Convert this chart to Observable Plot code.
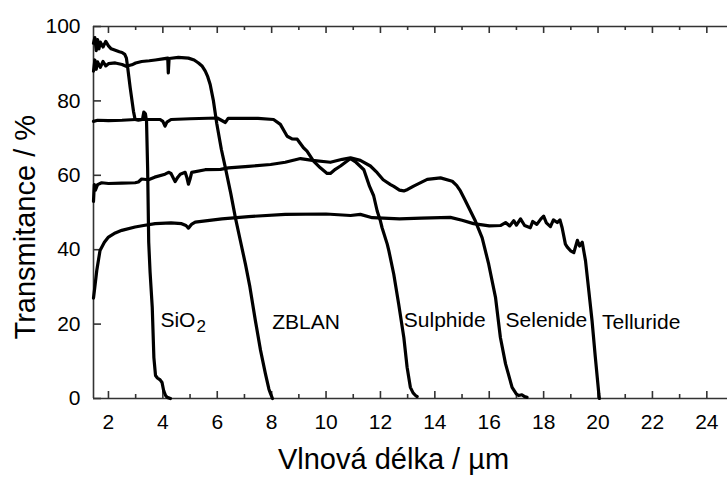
<!DOCTYPE html>
<html><head><meta charset="utf-8">
<script src="https://cdn.jsdelivr.net/npm/d3@7"></script>
<script src="https://cdn.jsdelivr.net/npm/@observablehq/plot@0.6"></script>
<style>body{margin:0;background:#fff}</style>
</head><body><div id="chart"></div>
<script>
// ---- data (wavelength µm, transmittance %) ----
const sio2 = [[1.45,95.5],[1.5,97],[1.55,93.5],[1.6,96.5],[1.65,94],[1.7,95.8],[1.8,94.5],[1.9,96],[2.0,94.8],[2.1,94],[2.25,93.6],[2.4,93.2],[2.5,93],[2.6,92.5],[2.66,91.5],[2.71,88.8],[2.8,83.5],[2.92,77.2],[2.98,75],[3.1,74.8],[3.25,75],[3.3,77],[3.36,76.5],[3.4,74.5],[3.44,62],[3.48,42],[3.53,34],[3.61,24.5],[3.67,11],[3.73,6.2],[3.8,5.5],[3.9,5],[3.97,4.3],[4.03,2.1],[4.1,0.8],[4.16,0.3],[4.28,0]];
const zblan = [[1.45,88],[1.5,91],[1.55,88.5],[1.6,90.5],[1.7,89],[1.8,90.6],[1.9,89.4],[2.0,90],[2.25,90.2],[2.5,89.8],[2.65,89.3],[2.86,89.7],[3.0,90.2],[3.22,90.6],[3.5,90.8],[3.72,91],[4.0,91.3],[4.18,91.5],[4.2,87.5],[4.23,91.4],[4.57,91.7],[4.94,91.5],[5.15,91],[5.31,90.2],[5.45,89.3],[5.56,88],[5.65,86.5],[5.74,84.4],[5.86,80],[5.98,74],[6.15,67],[6.3,62],[6.5,55],[6.67,48.5],[6.85,42.4],[7.04,36],[7.2,30],[7.4,21],[7.59,13],[7.77,6.7],[7.9,2.5],[7.96,1.3],[8.03,0]];
const sulphide = [[1.45,74.5],[1.6,74.8],[2.0,74.7],[2.5,74.8],[3.0,75],[3.5,75],[3.9,75],[4.0,74.5],[4.08,73.2],[4.15,74.3],[4.3,75],[5.0,75.2],[6.0,75.4],[6.3,74.2],[6.4,75.3],[7.0,75.3],[7.5,75.3],[8.07,75],[8.32,73.7],[8.57,70.5],[8.75,69.8],[8.94,69.7],[9.17,67.4],[9.3,66.5],[9.54,63.8],[9.79,62],[10.04,60.5],[10.16,60.5],[10.34,61.6],[10.53,62.5],[10.9,64.5],[11.1,63.5],[11.39,61.5],[11.6,57],[11.75,54.5],[11.88,50.4],[12.0,47.7],[12.06,45.9],[12.25,41.5],[12.31,39.7],[12.49,33.4],[12.67,25.4],[12.86,16.4],[12.98,8.4],[13.1,3],[13.2,1.5],[13.29,0.8],[13.35,0.5]];
const selenide = [[1.45,53],[1.48,57.5],[1.52,56],[1.6,57.5],[1.75,58],[2.0,57.8],[2.49,57.9],[2.98,58],[3.1,58.2],[3.22,59],[3.47,58.8],[3.7,59.5],[4.08,60.3],[4.21,60.8],[4.3,60.5],[4.45,58.3],[4.55,59.5],[4.64,60.3],[4.82,60.8],[4.88,59.5],[4.94,57.6],[5.0,59],[5.06,60.8],[5.56,61.5],[6.12,61.6],[6.41,62],[7.15,62.4],[7.96,62.9],[8.5,63.5],[9.06,64.5],[9.5,64],[10.16,63.5],[10.6,64.3],[10.9,64.7],[11.26,64],[11.63,62.5],[11.88,60.7],[12.1,58.8],[12.37,57.5],[12.49,57],[12.7,56],[12.86,55.8],[13.0,56.2],[13.22,57.1],[13.72,58.9],[14.21,59.3],[14.64,58.4],[14.8,57.3],[14.94,55.8],[15.1,53.5],[15.25,51.3],[15.49,47.7],[15.74,43.2],[15.98,36.1],[16.23,27.2],[16.41,16.4],[16.6,9.3],[16.84,3],[17.0,1.2],[17.08,0.8],[17.2,1],[17.3,0.5],[17.39,0.3]];
const telluride = [[1.45,27],[1.5,30],[1.57,34.4],[1.69,39.8],[1.85,42],[2.0,43.4],[2.25,44.5],[2.49,45.2],[2.98,46.1],[3.29,46.5],[3.72,47],[4.3,47.2],[4.69,47],[4.85,46.5],[4.94,45.8],[5.05,46.8],[5.19,47.4],[6.17,48.3],[7.15,48.9],[8.5,49.5],[10.0,49.6],[10.9,49.2],[11.26,49.5],[11.7,48.6],[12.7,48.3],[13.5,48.5],[14.57,48.7],[15.0,47.9],[15.42,47],[16.0,46.4],[16.41,46.5],[16.6,47.3],[16.75,46.4],[16.9,47.8],[17.0,46.6],[17.15,48.3],[17.3,46.5],[17.51,45.9],[17.6,47.6],[17.75,46.8],[17.9,48.3],[18.0,49],[18.1,47.2],[18.25,46.2],[18.36,48],[18.5,47.3],[18.6,48],[18.68,45.9],[18.8,41.5],[18.87,40.7],[18.99,39.7],[19.11,39.2],[19.24,42.5],[19.32,41],[19.42,42],[19.54,37],[19.66,29],[19.78,20.9],[19.9,11.1],[20.03,1.2],[20.05,0]];

const seriesNames = ["SiO2","ZBLAN","Sulphide","Selenide","Telluride"];
const seriesData = [sio2, zblan, sulphide, selenide, telluride];

const labelTexts = ["SiO","ZBLAN","Sulphide","Selenide","Telluride"];
const labelX = [3.91, 8.02, 12.86, 16.6, 20.15];
const labelY = [20.9, 20.4, 20.9, 20.9, 20.6];
const subscriptText = ["2"];

const xTickValues = [2,4,6,8,10,12,14,16,18,20,22,24];
const xMinorTickValues = [3,5,7,9,11,13,15,17,19,21,23];
const yTickValues = [0,20,40,60,80,100];
const xDomain = [1.45, 24.76];
const yDomain = [0, 100];
const xLabel = "Vlnová délka / µm";
const yLabel = "Transmitance / %";

// ---- layout ----
const W = 727, H = 482, mL = 93, mR = 0, mT = 26, mB = 84;
const plotH = H - mT - mB, plotW = W - mL - mR;
const frameColor = "#333";

const rows = seriesData.flatMap((s, i) => s.map(([x, y]) => ({series: seriesNames[i], x, y})));
const labels = labelTexts.map((t, i) => ({t, x: labelX[i], y: labelY[i]}));

const chart = Plot.plot({
  width: W, height: H,
  marginLeft: mL, marginRight: mR, marginTop: mT, marginBottom: mB,
  x: {domain: xDomain},
  y: {domain: yDomain},
  style: {fontFamily: "'Liberation Sans', Arial, sans-serif", background: "#fff", color: "#000"},
  marks: [
    // frame (left, top, bottom)
    Plot.ruleX([xDomain[0]], {stroke: frameColor, strokeWidth: 1.6}),
    Plot.ruleY([yDomain[0]], {stroke: frameColor, strokeWidth: 1.6}),
    Plot.ruleY([yDomain[1]], {stroke: frameColor, strokeWidth: 1.6}),
    // inward ticks
    Plot.tickX(xTickValues, {x: d => d, insetTop: plotH - 7, stroke: frameColor, strokeWidth: 1.6}),
    Plot.tickX(xMinorTickValues, {x: d => d, insetTop: plotH - 4, stroke: frameColor, strokeWidth: 1.6}),
    Plot.tickX(xTickValues, {x: d => d, insetBottom: plotH - 7, stroke: frameColor, strokeWidth: 1.6}),
    Plot.tickX(xMinorTickValues, {x: d => d, insetBottom: plotH - 4, stroke: frameColor, strokeWidth: 1.6}),
    Plot.tickY(yTickValues, {y: d => d, insetRight: plotW - 8, stroke: frameColor, strokeWidth: 1.6}),
    // tick labels
    Plot.axisX({ticks: xTickValues, tickSize: 0, tickPadding: 16, fontSize: 21, label: null, tickFormat: d => String(d)}),
    Plot.axisY({ticks: yTickValues, tickSize: 0, tickPadding: 13, fontSize: 21, label: null, tickFormat: d => String(d)}),
    // axis titles
    Plot.text([xLabel], {frameAnchor: "bottom", dx: -17, dy: 70, fontSize: 29, text: d => d}),
    Plot.text([yLabel], {frameAnchor: "left", rotate: -90, dx: -68, dy: 127, fontSize: 29, text: d => d}),
    // curves
    Plot.line(rows, {x: "x", y: "y", z: "series", stroke: "#000", strokeWidth: 3.2, strokeLinejoin: "round", strokeLinecap: "round"}),
    // series labels
    Plot.text(labels, {x: "x", y: "y", text: "t", textAnchor: "start", fontSize: 21}),
    Plot.text(subscriptText, {x: () => labelX[0], y: () => labelY[0], text: d => d, textAnchor: "start", dx: 36, dy: 6, fontSize: 17})
  ]
});
document.getElementById("chart").appendChild(chart);
</script>
</body></html>
